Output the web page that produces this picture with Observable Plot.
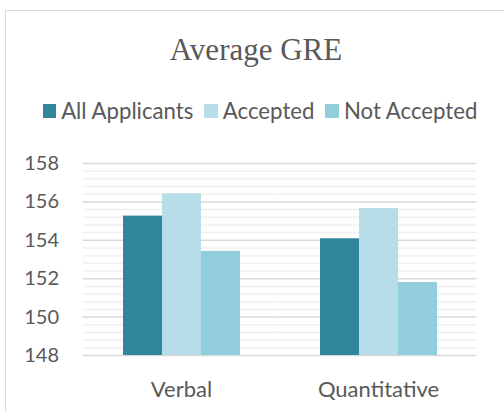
<!DOCTYPE html>
<html>
<head>
<meta charset="utf-8">
<script src="https://cdn.jsdelivr.net/npm/d3@7"></script>
<script src="https://cdn.jsdelivr.net/npm/@observablehq/plot@0.6"></script>
<style>
  html, body { margin: 0; padding: 0; background: #fff; width: 504px; height: 411px; overflow: hidden; }
  #frame { position: absolute; left: 5px; top: 10px; width: 560px; height: 460px; border: 1.5px solid #d9d9d9; box-sizing: border-box; }
  #title { position: absolute; left: 0; width: 512px; top: 30px; text-align: center; font-family: "Liberation Serif", serif; font-size: 31px; color: #595959; line-height: 40px; }
  #legend { position: absolute; left: 0; width: 520px; top: 98px; display: flex; justify-content: center; gap: 11px; font-family: Lato, sans-serif; font-size: 22.2px; color: #595959; line-height: 26px; }
  .item { display: flex; align-items: center; gap: 5px; }
  .sw { width: 13.5px; height: 13.5px; display: inline-block; }
  #chart { position: absolute; left: 0; top: 140px; }
</style>
</head>
<body>
<div id="frame"></div>
<div id="title">Average GRE</div>
<div id="legend"></div>
<div id="chart"></div>
<script>
const categories = ["Verbal", "Quantitative"];
const series = ["All Applicants", "Accepted", "Not Accepted"];
const colors = ["#31859C", "#B7DEE8", "#92CDDC"];
const allApplicants = [155.26, 154.08];
const accepted = [156.42, 155.66];
const notAccepted = [153.42, 151.8];
const yTicks = [148, 150, 152, 154, 156, 158];

const valuesBySeries = [allApplicants, accepted, notAccepted];
const data = [];
categories.forEach((c, i) => {
  series.forEach((s, j) => data.push({category: c, series: s, value: valuesBySeries[j][i]}));
});

const legend = document.getElementById("legend");
series.forEach((s, j) => {
  const it = document.createElement("div");
  it.className = "item";
  const sw = document.createElement("span");
  sw.className = "sw";
  sw.style.background = colors[j];
  const t = document.createElement("span");
  t.textContent = s;
  it.appendChild(sw); it.appendChild(t);
  legend.appendChild(it);
});

const minorTicks = d3.range(148, 158.001, 0.4).filter(v => Math.abs(v / 2 - Math.round(v / 2)) > 1e-6);
const ext = -39.5; // extend gridlines across facet padding

const chart = Plot.plot({
  width: 504,
  height: 271,
  marginLeft: 82,
  marginRight: 27.3,
  marginTop: 23,
  marginBottom: 56,
  style: { fontFamily: "Lato, sans-serif", fontSize: "20px", color: "#595959", background: "transparent", overflow: "visible" },
  fx: { domain: categories, paddingInner: 0.4, paddingOuter: 0.2, label: null },
  x: { domain: series, padding: 0, axis: null },
  y: { domain: [148, 158], label: null },
  color: { domain: series, range: colors },
  marks: [
    Plot.ruleY(minorTicks, { stroke: "#f0f0f0", strokeWidth: 1.5, insetLeft: ext, insetRight: ext }),
    Plot.ruleY(yTicks, { stroke: "#d9d9d9", strokeWidth: 1.5, insetLeft: ext, insetRight: ext }),
    Plot.barY(data, { fx: "category", x: "series", y1: 148, y2: "value", fill: "series" }),
    Plot.axisY({ ticks: yTicks, tickSize: 0, tickPadding: 63.5, tickFormat: d => String(d), anchor: "left", fontSize: 20, label: null }),
    Plot.axisFx({ anchor: "bottom", tickSize: 0, tickPadding: 26, fontSize: 22, label: null })
  ]
});
document.getElementById("chart").appendChild(chart);
</script>
</body>
</html>
